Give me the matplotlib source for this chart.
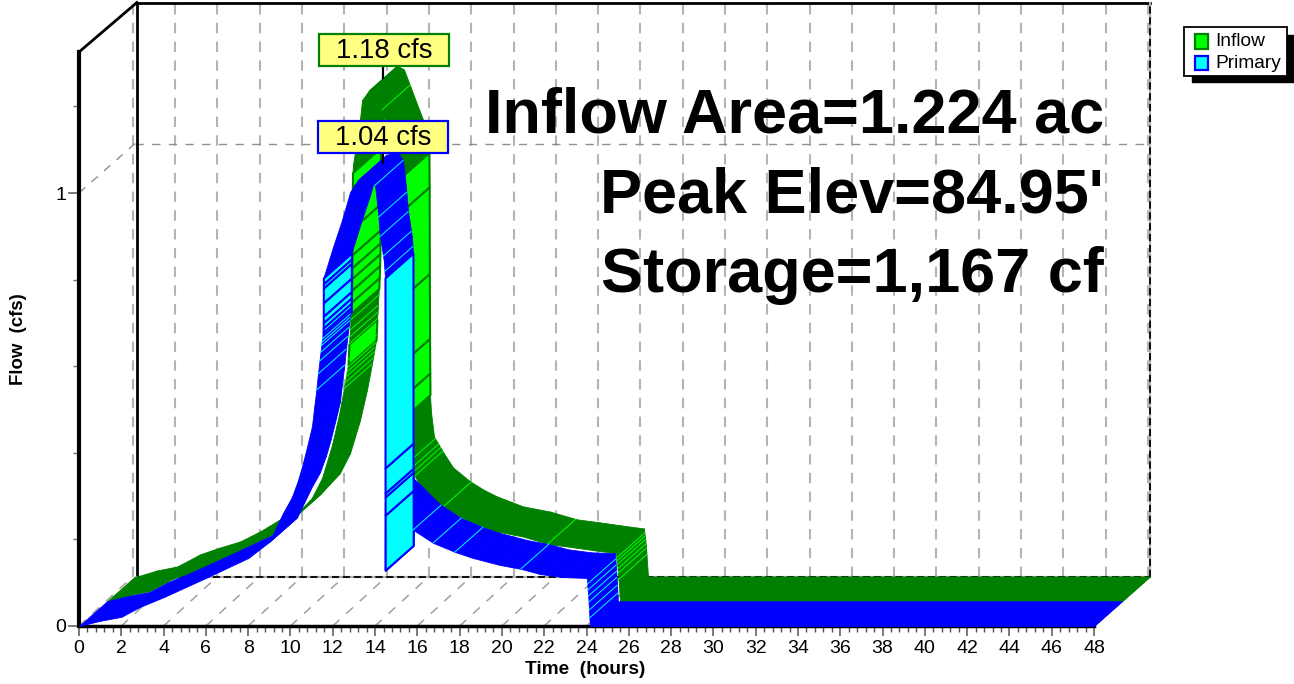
import numpy as np
import matplotlib
matplotlib.use('Agg')
import matplotlib.pyplot as plt
from matplotlib.collections import PolyCollection
from matplotlib.patches import Rectangle
from matplotlib.ticker import MultipleLocator

plt.rcParams['font.family'] = ['Liberation Sans', 'DejaVu Sans']

# hydrographs: hours, cfs
inflow_t = [0, 0.1, 1.04, 1.99, 3.07, 4.02, 4.97, 5.91, 6.86, 7.85, 8.8, 9.69, 10.17, 10.64, 10.97, 11.21, 11.40,
            11.44, 11.47, 11.49, 11.51, 11.53, 11.55, 11.57, 11.58, 11.585, 11.59, 11.595, 11.6, 11.605, 11.61,
            11.63, 11.96, 12.06, 12.39, 12.72, 13.43, 13.62, 13.9, 13.91, 13.92, 13.93, 13.94, 13.95, 14.0,
            14.14, 14.6, 15.04, 15.84, 16.5, 17.12, 18.35, 19.63, 20.9, 21.99, 23.0, 24.07, 24.09, 24.11, 24.13,
            24.15, 24.17, 24.19, 24.26, 48]
inflow_q = [0, 0, 0.014, 0.023, 0.051, 0.067, 0.081, 0.104, 0.132, 0.155, 0.192, 0.239, 0.285, 0.361, 0.431, 0.493,
            0.546, 0.594, 0.610, 0.626, 0.649, 0.665, 0.690, 0.718, 0.745, 0.770, 0.800, 0.860, 0.925,
            0.956, 0.990, 1.007, 1.111, 1.157, 1.18, 1.171, 1.079, 1.055, 0.979, 0.90, 0.70, 0.55, 0.47, 0.42,
            0.379, 0.323, 0.285, 0.252, 0.220, 0.200, 0.185, 0.162, 0.150, 0.132, 0.125, 0.118, 0.111, 0.100,
            0.093, 0.085, 0.075, 0.065, 0.050, 0, 0]

primary_t = [0, 0.99, 1.99, 2.88, 4.02, 6, 8, 8.99, 9.65, 10.07, 10.36, 10.59, 10.83, 11.02, 11.11, 11.21, 11.3,
             11.4, 11.5, 11.542, 11.544, 11.546, 11.548, 11.55, 11.552, 11.554, 11.556, 11.558, 11.56, 12.01, 12.44,
             12.82, 13.19, 13.71, 14.0, 14.14, 14.23, 14.42, 14.47, 14.472, 14.474, 14.476, 14.478, 14.48, 14.49,
             14.85, 15.3, 15.8, 16.75, 17.78, 18.64, 19.9, 20.9, 21.8, 22.9, 24.02, 24.1, 24.16, 48]
primary_q = [0, 0.012, 0.021, 0.044, 0.067, 0.111, 0.157, 0.194, 0.261, 0.298, 0.337, 0.376, 0.423, 0.462, 0.501,
             0.540, 0.582, 0.624, 0.663, 0.667, 0.671, 0.678, 0.688, 0.700, 0.715, 0.746, 0.780, 0.790, 0.804, 0.875,
             0.938, 1.002, 1.03, 1.04, 1.018, 0.956, 0.903, 0.841, 0.804, 0.365, 0.307, 0.298, 0.256, 0.129, 0.284,
             0.268, 0.245, 0.222, 0.192, 0.171, 0.157, 0.141, 0.132, 0.120, 0.113, 0.111, 0.055, 0, 0]

# places where the plotter left a thin light line on the dark faces
inflow_marks = [11.2, 11.25, 11.3, 11.34, 11.38, 11.41, 11.44, 11.47, 11.49, 11.51, 13.0, 14.2, 14.35, 14.45, 14.55,
                15.9, 20.85, 24.09, 24.11, 24.13, 24.15, 24.17, 24.19]
primary_marks = [11.22, 11.3, 11.37, 11.42, 11.46, 11.48, 11.5, 14.0, 14.16, 14.24, 14.38, 14.45, 15.8, 16.75, 17.78,
                 20.9, 24.04, 24.06, 24.08, 24.1, 24.12, 24.14]

series_names = ['Inflow', 'Primary']
peak_values = [1.18, 1.04]
big_text = ['Inflow Area=1.224 ac', "Peak Elev=84.95'", 'Storage=1,167 cf']

W, H = 1294, 684
PX_X = 21.146     # pixels per hour
PX_Y = 433.0      # pixels per cfs
X0, Y0 = 79, 626  # pixel of the origin
DX = 56 / PX_X    # full depth of the box, in data units
DY = 49.5 / PX_Y
TOP = 1.3256
END = 48


def px(x, y):
    return x / W, 1 - y / H


fig = plt.figure(figsize=(W / 100, H / 100), dpi=100)
ax = fig.add_axes([0, 0, 1, 1])
ax.set_xlim(-X0 / PX_X, (W - X0) / PX_X)
ax.set_ylim((Y0 - H) / PX_Y, Y0 / PX_Y)
ax.patch.set_visible(False)

for s in ['top', 'right']:
    ax.spines[s].set_visible(False)
ax.spines['left'].set_position(('data', 0))
ax.spines['bottom'].set_position(('data', 0))
ax.spines['left'].set_bounds(0, TOP)
ax.spines['bottom'].set_bounds(0, END)
ax.spines['left'].set_linewidth(3)
ax.spines['bottom'].set_linewidth(2.5)

ax.set_xticks(np.arange(0, END + 1, 2))
ax.xaxis.set_minor_locator(MultipleLocator(0.4))
ax.set_yticks([0, 1])
ax.yaxis.set_minor_locator(MultipleLocator(0.2))
ax.tick_params(axis='x', which='major', length=7, width=1.3, color='#707070', labelsize=14, pad=3)
ax.tick_params(axis='x', which='minor', length=4, width=1, color='#505050')
ax.tick_params(axis='y', which='major', length=8, width=1.3, color='#707070', labelsize=14, pad=1)
ax.tick_params(axis='y', which='minor', length=4, width=1, color='#707070')
# keep the ticks on the axis range only
ax.set_xticks([v for v in ax.xaxis.get_minorticklocs() if 0 <= v <= END], minor=True)
ax.set_yticks([v for v in np.arange(0, TOP, 0.2)], minor=True)

# back wall and floor
grid = '#b4b4b4'
for h in np.arange(0, END + 1, 2):
    ax.plot([h + DX - 0.1] * 2, [DY, TOP + DY], color=grid, lw=1.5, ls=(0, (5, 4)), zorder=1)
    ax.plot([h, h + DX - 0.1], [0, DY], color='#a0a0a0', lw=1.1, ls=(0, (6, 6)), zorder=1)
ax.plot([0, DX], [1, 1 + DY], color='#909090', lw=1, ls=(0, (6, 6)), zorder=1)
ax.plot([DX, END + DX], [1 + DY] * 2, color='#909090', lw=1, ls=(0, (6, 6)), zorder=1)

# the black frame sits a touch right of the first gridline
BX = DX + 0.09
ax.plot([BX, BX], [DY, TOP + DY], color='black', lw=2, zorder=1.5)
ax.plot([0, BX], [TOP, TOP + DY], color='black', lw=2, zorder=1.5)
ax.plot([BX, END + DX], [TOP + DY] * 2, color='black', lw=2, zorder=1.5)
ax.plot([BX, END + DX], [DY, DY], color='#b0b0b0', lw=1.6, zorder=1.5)
ax.plot([BX, END + DX], [DY, DY], color='black', lw=1.3, ls=(0, (4, 2)), zorder=1.6)
ax.plot([END + DX] * 2, [DY, TOP + DY], color='#b0b0b0', lw=1.6, zorder=1.5)
ax.plot([END + DX] * 2, [DY, TOP + DY], color='black', lw=1.3, ls=(0, (4, 2)), zorder=1.6)
ax.plot([END, END + DX], [0, DY], color='black', lw=1, zorder=1.5)


def ribbon(t, q, marks, near, far, dark, light, z):
    t = np.asarray(t, float)
    q = np.asarray(q, float)
    # earlier times sit in front of later ones, so draw from the far end
    for i in range(len(t) - 2, -1, -1):
        face = [(t[i] + near * DX, q[i] + near * DY), (t[i + 1] + near * DX, q[i + 1] + near * DY),
                (t[i + 1] + far * DX, q[i + 1] + far * DY), (t[i] + far * DX, q[i] + far * DY)]
        steep = abs(q[i + 1] - q[i]) * PX_Y > 24 * (t[i + 1] - t[i]) * PX_X
        if steep:
            pc = PolyCollection([face], facecolors=light, edgecolors=dark, linewidths=1.5, zorder=z)
        else:
            pc = PolyCollection([face], facecolors=dark, edgecolors=dark, linewidths=0.6, zorder=z)
        ax.add_collection(pc)
    for m in marks:
        v = np.interp(m, t, q)
        ax.plot([m + near * DX, m + far * DX], [v + near * DY, v + far * DY], color=light, lw=0.7, zorder=z + 0.01)


ribbon(inflow_t, inflow_q, inflow_marks, 0.5, 1.0, '#008000', '#00ff00', 2)
ribbon(primary_t, primary_q, primary_marks, 0.0, 0.5, '#0000ff', '#00ffff', 3)

# peak pointers and labels
edge_colors = ['#008000', '#0000ff']
face_colors = ['#00ff00', '#00ffff']
label_boxes = [(319, 34), (318, 121)]
peak_times = [inflow_t[int(np.argmax(inflow_q))], primary_t[int(np.argmax(primary_q))]]
depths = [0.75, 0.25]
for k in range(2):
    bx, by = label_boxes[k]
    x0, y0 = px(bx, by + 32)
    ax.add_patch(Rectangle((x0, y0), 130 / W, 32 / H, transform=fig.transFigure, facecolor='#ffff80',
                           edgecolor=edge_colors[k], lw=1.6, zorder=6))
    tx, ty = px(bx + 65, by + 17)
    ax.text(tx, ty, '%.2f cfs' % peak_values[k], transform=fig.transFigure, ha='center', va='center',
            fontsize=19.8, color='black', zorder=7)
    xp = peak_times[k] + depths[k] * DX
    yp = peak_values[k] + depths[k] * DY
    ax.plot([xp, xp], [yp, yp + 14 / PX_Y], color='black', lw=1.6, zorder=5)

# big annotation
for line, yy in zip(big_text, [116, 196, 276]):
    tx, ty = px(1104, yy)
    ax.text(tx, ty, line, transform=fig.transFigure, ha='right', va='center', fontsize=45.4,
            fontweight='bold', color='black', zorder=8)

# axis titles
tx, ty = px(585, 670)
ax.text(tx, ty, 'Time  (hours)', transform=fig.transFigure, ha='center', va='center', fontsize=13.7, fontweight='bold')
tx, ty = px(19, 339)
ax.text(tx, ty, 'Flow  (cfs)', transform=fig.transFigure, ha='center', va='center', rotation=90,
        fontsize=13.4, fontweight='bold')

# legend with hard shadow
x0, y0 = px(1192, 82)
ax.add_patch(Rectangle((x0, y0), 102 / W, 47 / H, transform=fig.transFigure, facecolor='black', edgecolor='black', zorder=9))
x0, y0 = px(1184, 76)
ax.add_patch(Rectangle((x0, y0), 103 / W, 49 / H, transform=fig.transFigure, facecolor='white', edgecolor='black', lw=1.3, zorder=10))
for k in range(2):
    x0, y0 = px(1195, 48.5 + 21.5 * k)
    ax.add_patch(Rectangle((x0, y0), 12.5 / W, 14 / H, transform=fig.transFigure, facecolor=face_colors[k],
                           edgecolor=edge_colors[k], lw=1.6, zorder=11))
    tx, ty = px(1215.5, 42 + 22 * k)
    ax.text(tx, ty, series_names[k], transform=fig.transFigure, ha='left', va='center', fontsize=13.8, zorder=11)

fig.savefig('out.png', dpi=100)
